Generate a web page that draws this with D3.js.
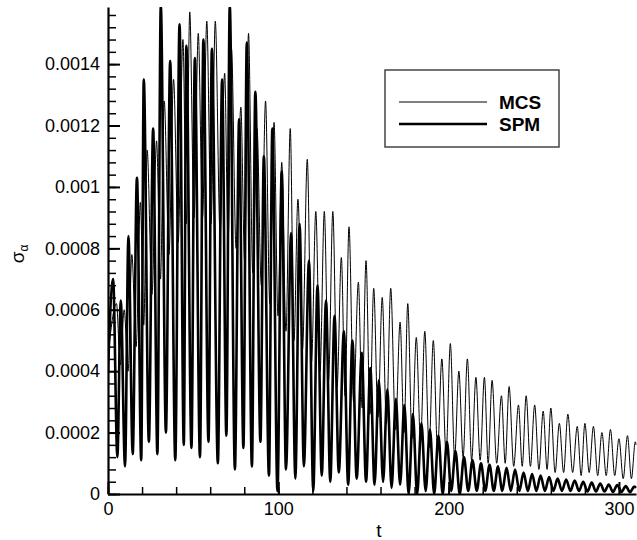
<!DOCTYPE html>
<html><head><meta charset="utf-8">
<script src="https://cdn.jsdelivr.net/npm/d3@7"></script>
<style>body{margin:0;background:#fff} svg{display:block}</style>
</head><body><svg id="c" width="637" height="540"></svg>
<script>
const seriesNames = ["MCS", "SPM"];
const xMajorTicks = [0, 100, 200, 300];
const xTickLabels = ["0", "100", "200", "300"];
const yMajorTicks = [0, 0.0002, 0.0004, 0.0006, 0.0008, 0.001, 0.0012, 0.0014];
const yTickLabels = ["0", "0.0002", "0.0004", "0.0006", "0.0008", "0.001", "0.0012", "0.0014"];

// MCS series: [t, sigma_alpha] read at peaks and troughs
const mcs = [[0,0.00045],[5,0.00062],[7.2,0.00042],[9.5,0.0006],[11.8,0.0004],[14,0.00078],[16.5,0.00048],[19,0.00095],[21,0.00055],[23,0.00112],[25.8,0.00065],[28.5,0.00115],[30.8,0.0007],[33,0.00128],[35.8,0.00078],[38.5,0.00135],[41.2,0.00082],[44,0.00148],[46,0.00088],[48,0.00157],[50.5,0.0009],[53,0.0015],[55.5,0.0009],[58,0.00154],[60.5,0.00088],[63,0.00154],[65.8,0.00085],[68.5,0.00137],[70.5,0.00082],[72.5,0.00145],[75.2,0.0008],[78,0.00126],[80.2,0.00076],[82.5,0.0015],[85,0.00072],[87.5,0.00119],[90,0.00068],[92.5,0.00128],[95,0.00062],[97.5,0.00121],[99.8,0.00058],[102,0.00108],[104.5,0.00053],[107,0.00119],[109.2,0.0005],[111.5,0.00096],[114.2,0.00047],[117,0.00109],[119.5,0.00043],[122,0.00092],[124.5,0.0004],[127,0.00092],[129.5,0.00037],[132,0.00092],[134.5,0.00035],[137,0.00077],[139.2,0.00032],[141.5,0.00087],[144.2,0.0003],[147,0.00069],[149.2,0.00028],[151.5,0.00076],[153.8,0.00026],[156,0.00067],[158.5,0.00025],[161,0.00064],[163.5,0.00023],[166,0.00067],[168.8,0.00021],[171.5,0.00056],[173.8,0.0002],[176,0.00062],[178.5,0.00018],[181,0.00051],[183.5,0.00017],[186,0.00053],[188.5,0.00015],[191,0.0005],[193.5,0.00014],[196,0.00044],[198.5,0.00013],[201,0.00049],[203.5,0.00012],[206,0.0004],[208.5,0.00012],[211,0.00044],[213.5,0.00011],[216,0.00038],[218.5,0.00011],[221,0.00038],[223.2,0.0001],[225.5,0.00037],[228.2,0.0001],[231,0.00032],[233.2,0.0001],[235.5,0.00035],[238.2,0.00009],[241,0.00029],[243.2,0.00009],[245.5,0.00032],[248,0.00009],[250.5,0.00029],[253,0.00008],[255.5,0.00027],[257.8,0.00008],[260,0.00028],[262.5,0.00007],[265,0.00023],[267.5,0.00007],[270,0.00026],[272.8,0.00007],[275.5,0.00022],[277.8,0.00006],[280,0.00023],[282.5,0.00007],[285,0.00022],[287.5,0.00006],[290,0.0002],[292.5,0.00006],[295,0.00021],[297.5,0.00006],[300,0.00018],[302.5,0.00005],[305,0.00019],[307.3,0.00005],[309.6,0.00017],[310,0.00016]];

// SPM series: [t, sigma_alpha] read at peaks and troughs
const spm = [[0,0.0004],[3,0.0007],[5.5,0.00012],[7.5,0.00063],[10,0.00009],[12,0.00084],[14.5,0.00013],[17,0.00103],[19.5,0.00011],[21,0.00135],[24,0.00017],[26.5,0.00119],[29,0.00013],[31,0.00159],[34,0.0002],[36.5,0.00141],[39.5,0.00011],[42,0.00153],[44.5,0.00016],[46,0.00146],[49,0.00015],[51,0.00142],[54,0.00012],[56,0.00148],[59,0.00017],[61,0.00145],[64.5,0.0001],[67,0.00135],[69.5,0.00019],[71.5,0.00159],[74.5,0.00008],[77,0.00122],[79.5,0.00015],[81.5,0.00147],[84.5,0.00009],[86.5,0.00131],[89.5,0.00017],[91.5,0.0011],[94.5,0.00006],[96.5,0.00119],[99.5,0.00001],[102,0.00105],[104.5,0.00008],[107.5,0.00085],[110,0.00005],[112.5,0.00088],[115,0.00009],[118,0.00076],[120.5,0.00001],[123,0.00068],[125.5,0.00006],[128,0.00063],[130.5,0.00004],[133,0.00058],[135.5,0.00007],[138.5,0.00053],[141,0.00003],[143.5,0.0005],[146,0.00005],[149,0.00046],[151.5,0.00004],[154,0.00041],[156.5,0.00003],[159,0.00037],[161.5,0.00004],[164,0.00034],[166.5,0.00002],[169,0.00031],[171.5,0.00003],[174,0.00029],[176.5,0],[179,0.00026],[181.5,0],[184,0.00023],[186.5,0.00001],[189,0.00021],[191.5,0],[194,0.00019],[196.5,0],[199,0.00017],[201.5,0.00001],[204,0.00014],[206.5,0],[209,0.00012],[211.5,0.00001],[214,0.00011],[216.5,0.00001],[219,0.0001],[221.5,0.00001],[224,0.000095],[226.5,0.00001],[229,0.00009],[231.5,0.00001],[234,0.000085],[236.5,0.00001],[239,0.00008],[241.5,0.00001],[244,0.00007],[246.5,0.00001],[249,0.000065],[251.5,0.00001],[254,0.00006],[256.5,0.00001],[259,0.000055],[261.5,0.00001],[264,0.00005],[266.5,0.00001],[269,0.000047],[271.5,0.00001],[274,0.000044],[276.5,0.00001],[279,0.00004],[281.5,0.000008],[284,0.000037],[286.5,0.000008],[289,0.000034],[291.5,0.000008],[294,0.000031],[296.5,0.000007],[299,0.000029],[301.5,0.000007],[304,0.000026],[306.5,0.000006],[309,0.000024],[310,0.00002]];

const FONT = "'Liberation Sans', Arial, sans-serif";
const svg = d3.select("#c");
const x = d3.scaleLinear().domain([0, 310]).range([108, 636]);
const y = d3.scaleLinear().domain([0, 0.001586]).range([494, 7]);

svg.append("defs").append("clipPath").attr("id", "clip")
  .append("rect").attr("x", 108).attr("y", 7).attr("width", 529).attr("height", 487);

const line = d3.line().x(d => x(d[0])).y(d => y(d[1])).curve(d3.curveMonotoneX);
const plot = svg.append("g").attr("clip-path", "url(#clip)");
plot.append("path").datum(spm).attr("d", line).attr("fill", "none")
  .attr("stroke", "#000").attr("stroke-width", 2.6).attr("stroke-linejoin", "round");
plot.append("path").datum(mcs).attr("d", line).attr("fill", "none")
  .attr("stroke", "#000").attr("stroke-width", 1);

// minor ticks
const yMinor = d3.range(0, 0.00159, 0.00004);
const xMinor = d3.range(0, 311, 20);
svg.append("g").attr("transform", "translate(108,0)")
  .call(d3.axisLeft(y).tickValues(yMinor).tickSizeInner(-8).tickSizeOuter(0).tickFormat(""))
  .call(g => g.select(".domain").remove())
  .call(g => g.selectAll("line").attr("stroke-width", 1.5));
svg.append("g").attr("transform", "translate(0,494)")
  .call(d3.axisBottom(x).tickValues(xMinor).tickSizeInner(-7).tickSizeOuter(0).tickFormat(""))
  .call(g => g.select(".domain").remove())
  .call(g => g.selectAll("line").attr("stroke-width", 1.5));

// major axes
svg.append("g").attr("transform", "translate(108,0)")
  .call(d3.axisLeft(y).tickValues(yMajorTicks).tickSizeInner(-12).tickSizeOuter(0).tickPadding(8)
    .tickFormat((d, i) => yTickLabels[i]))
  .call(g => g.select(".domain").attr("stroke-width", 2.2))
  .call(g => g.selectAll("line").attr("stroke-width", 2))
  .call(g => g.selectAll("text").attr("font-family", FONT).attr("font-size", 18).attr("fill", "#000"));
svg.append("g").attr("transform", "translate(0,494)")
  .call(d3.axisBottom(x).tickValues(xMajorTicks).tickSizeInner(-12).tickSizeOuter(0).tickPadding(8)
    .tickFormat((d, i) => xTickLabels[i]))
  .call(g => g.select(".domain").attr("stroke-width", 2.2))
  .call(g => g.selectAll("line").attr("stroke-width", 2))
  .call(g => g.selectAll("text").attr("font-family", FONT).attr("font-size", 18).attr("fill", "#000"));

// axis titles
svg.append("text").attr("x", 379).attr("y", 537).attr("text-anchor", "middle")
  .attr("font-family", FONT).attr("font-size", 19).text("t");
const yl = svg.append("text").attr("transform", "translate(24,254) rotate(-90)")
  .attr("text-anchor", "middle").attr("font-family", FONT).attr("font-size", 19);
yl.append("tspan").text("σ");
yl.append("tspan").attr("font-size", 12).attr("dy", 4).text("α");

// legend
const lg = svg.append("g");
lg.append("rect").attr("x", 385).attr("y", 70).attr("width", 174).attr("height", 77)
  .attr("fill", "#fff").attr("stroke", "#444").attr("stroke-width", 1.5);
const legendY = [102, 124];
const legendW = [1, 2.6];
seriesNames.forEach((name, i) => {
  lg.append("line").attr("x1", 399).attr("x2", 487).attr("y1", legendY[i]).attr("y2", legendY[i])
    .attr("stroke", "#000").attr("stroke-width", legendW[i]);
  lg.append("text").attr("x", 499).attr("y", legendY[i] + 6.5)
    .attr("font-family", FONT).attr("font-size", 19).attr("font-weight", "bold").text(name);
});
</script></body></html>
